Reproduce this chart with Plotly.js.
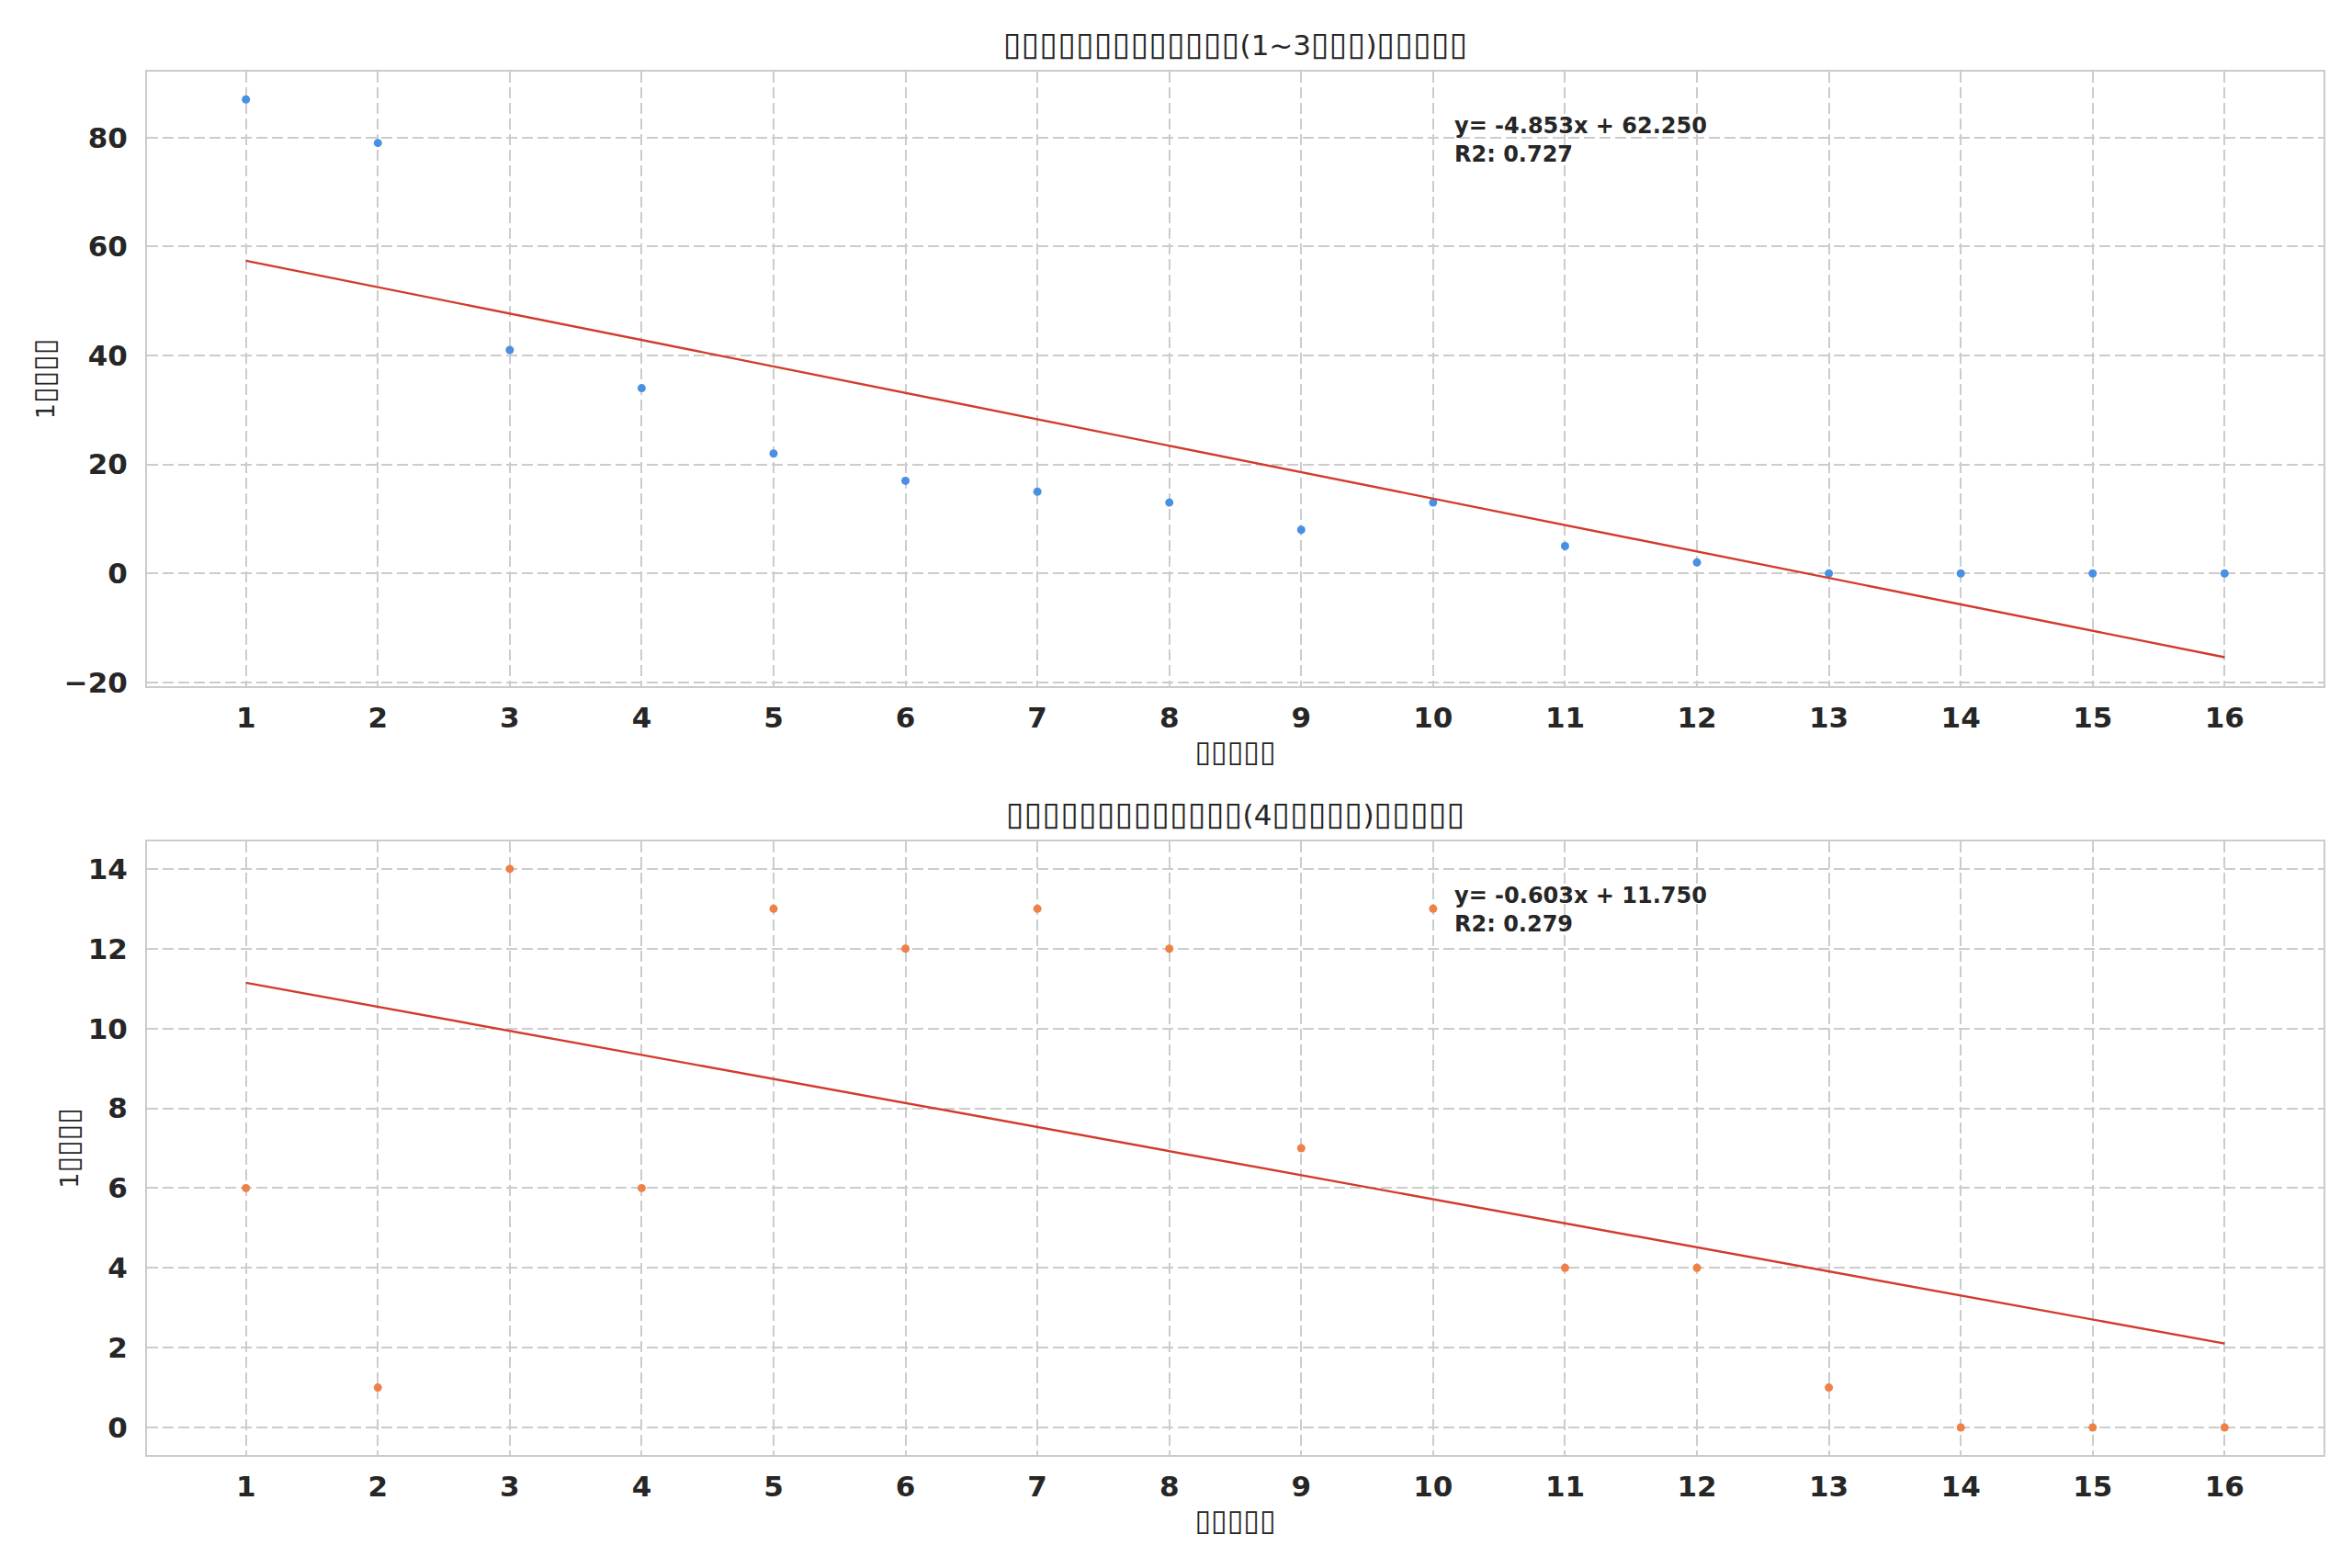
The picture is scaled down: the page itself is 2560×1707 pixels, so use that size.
<!DOCTYPE html>
<html>
<head>
<meta charset="utf-8">
<script src="https://cdn.plot.ly/plotly-3.0.1.min.js"></script>
<style>
	html, body { margin: 0; padding: 0; background: #ffffff; }
	#plot { width: 2560px; height: 1707px; }
</style>
</head>
<body>
<div id="plot"></div>
<script>
// week index on the x axis
const weeks = [1, 2, 3, 4, 5, 6, 7, 8, 9, 10, 11, 12, 13, 14, 15, 16];
// weekly counts, group (1~3)
const earlyCounts = [87, 79, 41, 34, 22, 17, 15, 13, 8, 13, 5, 2, 0, 0, 0, 0];
// weekly counts, group (4...)
const lateCounts = [6, 1, 14, 6, 13, 12, 13, 12, 7, 13, 4, 4, 1, 0, 0, 0];

// the original labels were drawn as missing-glyph boxes
const box = (n, px) =>
	`<span style="font-size:${px}px">${"\u25AF".repeat(n)}</span>`;
const titleTop = `${box(13, 36)}(1~3${box(3, 36)})${box(5, 36)}`;
const titleBottom = `${box(13, 36)}(4${box(5, 36)})${box(5, 36)}`;
const xLabel = box(5, 32);
const yLabel = `1${box(4, 32)}`;

const dotColors = ["#4a90e2", "#ee8148"];
const fitColor = "#d23b2c";
const gridColor = "#cccccc";
const textColor = "#262626";
const fontFamily = "DejaVu Sans, Verdana, sans-serif";

function linearFit(x, y) {
	const n = x.length;
	const mx = x.reduce((a, b) => a + b, 0) / n;
	const my = y.reduce((a, b) => a + b, 0) / n;
	let sxy = 0;
	let sxx = 0;
	let syy = 0;
	for (let i = 0; i < n; i++) {
		sxy += (x[i] - mx) * (y[i] - my);
		sxx += (x[i] - mx) * (x[i] - mx);
		syy += (y[i] - my) * (y[i] - my);
	}
	const slope = sxy / sxx;
	const intercept = my - slope * mx;
	return { slope, intercept, r2: (sxy * sxy) / (sxx * syy) };
}

function panel(y, color, xa, ya) {
	const fit = linearFit(weeks, y);
	const traces = [
		{
			x: weeks,
			y: y,
			xaxis: xa,
			yaxis: ya,
			type: "scatter",
			mode: "markers",
			marker: { color: color, size: 9 },
			showlegend: false,
		},
		{
			x: weeks,
			y: weeks.map((w) => fit.slope * w + fit.intercept),
			xaxis: xa,
			yaxis: ya,
			type: "scatter",
			mode: "lines",
			line: { color: fitColor, width: 2.4 },
			showlegend: false,
		},
	];
	const sign = fit.intercept >= 0 ? "+" : "-";
	const label =
		`y= ${fit.slope.toFixed(3)}x ${sign} ${Math.abs(fit.intercept).toFixed(3)}` +
		`<br>R2: ${fit.r2.toFixed(3)}`;
	return { traces, label };
}

const topPanel = panel(earlyCounts, dotColors[0], "x", "y");
const bottomPanel = panel(lateCounts, dotColors[1], "x2", "y2");

const axisCommon = {
	showline: true,
	mirror: true,
	linecolor: gridColor,
	linewidth: 2,
	showgrid: true,
	gridcolor: gridColor,
	gridwidth: 2,
	griddash: "12px,5px",
	zeroline: false,
	ticks: "",
	tickfont: { family: fontFamily, size: 31, color: textColor, weight: "bold" },
};

const xCommon = Object.assign({}, axisCommon, {
	range: [0.25, 16.75],
	tickvals: weeks,
	ticklabelstandoff: 6,
	title: {
		text: xLabel,
		font: { family: fontFamily, size: 27, color: textColor },
		standoff: 12,
	},
});

const yCommon = Object.assign({}, axisCommon, {
	ticklabelstandoff: 13,
	title: {
		text: yLabel,
		font: { family: fontFamily, size: 27, color: textColor },
		standoff: 2,
	},
});

const topDomain = [0.5558, 1];
const bottomDomain = [0, 0.4436];

const layout = {
	width: 2560,
	height: 1707,
	margin: { l: 160, r: 31, t: 78, b: 123 },
	paper_bgcolor: "#ffffff",
	plot_bgcolor: "#ffffff",
	font: { family: fontFamily, color: textColor },
	xaxis: Object.assign({}, xCommon, { anchor: "y", domain: [0, 1] }),
	yaxis: Object.assign({}, yCommon, {
		anchor: "x",
		domain: topDomain,
		range: [-20.7, 92.1],
		dtick: 20,
	}),
	xaxis2: Object.assign({}, xCommon, { anchor: "y2", domain: [0, 1] }),
	yaxis2: Object.assign({}, yCommon, {
		anchor: "x2",
		domain: bottomDomain,
		range: [-0.69, 14.69],
		dtick: 2,
	}),
	annotations: [
		{
			text: titleTop,
			xref: "paper",
			yref: "paper",
			x: 0.5,
			y: topDomain[1],
			xanchor: "center",
			yanchor: "bottom",
			yshift: 8,
			showarrow: false,
			font: { family: fontFamily, size: 31, color: textColor },
		},
		{
			text: titleBottom,
			xref: "paper",
			yref: "paper",
			x: 0.5,
			y: bottomDomain[1],
			xanchor: "center",
			yanchor: "bottom",
			yshift: 8,
			showarrow: false,
			font: { family: fontFamily, size: 31, color: textColor },
		},
		{
			text: topPanel.label,
			xref: "x domain",
			yref: "y domain",
			x: 0.6,
			y: 0.936,
			xanchor: "left",
			yanchor: "top",
			align: "left",
			showarrow: false,
			font: { family: fontFamily, size: 24, color: textColor, weight: "bold" },
		},
		{
			text: bottomPanel.label,
			xref: "x2 domain",
			yref: "y2 domain",
			x: 0.6,
			y: 0.936,
			xanchor: "left",
			yanchor: "top",
			align: "left",
			showarrow: false,
			font: { family: fontFamily, size: 24, color: textColor, weight: "bold" },
		},
	],
};

Plotly.newPlot("plot", topPanel.traces.concat(bottomPanel.traces), layout, {
	displayModeBar: false,
	staticPlot: true,
});
</script>
</body>
</html>
